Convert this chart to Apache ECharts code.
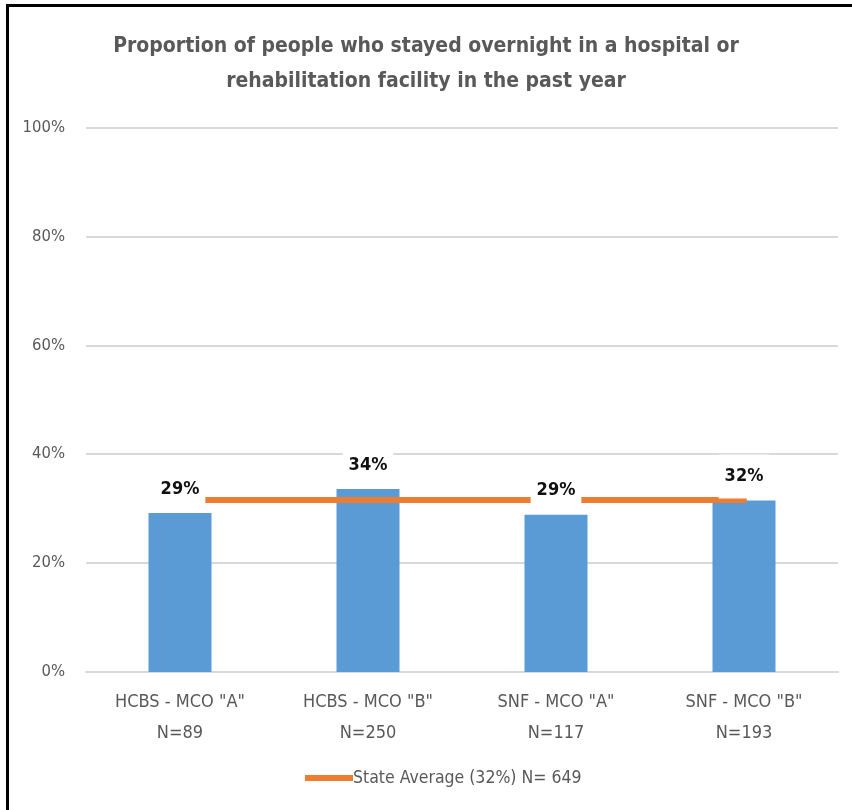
<!DOCTYPE html>
<html>
<head>
<meta charset="utf-8">
<script src="https://cdn.jsdelivr.net/npm/echarts@6/dist/echarts.min.js"></script>
<style>
html,body{margin:0;padding:0;background:#fff;}
#chart{width:852px;height:810px;}
</style>
</head>
<body>
<div id="chart"></div>
<script>
const categories = ['HCBS - MCO "A"\nN=89', 'HCBS - MCO "B"\nN=250', 'SNF - MCO "A"\nN=117', 'SNF - MCO "B"\nN=193'];
const barValues = [29.2, 33.6, 28.9, 31.5];
const barLabels = ['29%', '34%', '29%', '32%'];
const stateAverage = [31.6, 31.6, 31.6, 31.6];
const stateName = 'State Average (32%) N= 649';
const yTicks = [0, 20, 40, 60, 80, 100];

const FONT = '"Liberation Sans Narrow", "DejaVu Sans Condensed", sans-serif';
const chart = echarts.init(document.getElementById('chart'));
chart.setOption({
  animation: false,
  backgroundColor: '#fff',
  title: {
    text: 'Proportion of people who stayed overnight in a hospital or\nrehabilitation facility in the past year',
    left: 'center',
    top: 24,
    textStyle: { fontFamily: FONT, fontSize: 21, fontWeight: 'bold', color: '#595959', lineHeight: 35 }
  },
  legend: {
    data: [stateName],
    left: 300,
    top: 764,
    itemWidth: 48,
    itemHeight: 6,
    itemGap: 0,
    icon: 'rect',
    textStyle: { fontFamily: FONT, fontSize: 17.5, color: '#595959', padding: [0, 0, 0, -5] }
  },
  grid: { left: 86, right: 14, top: 127.5, bottom: 138, containLabel: false },
  xAxis: {
    type: 'category',
    data: categories,
    axisLine: { show: true, lineStyle: { color: '#D9D9D9', width: 2 } },
    axisTick: { show: false },
    axisLabel: { fontFamily: FONT, fontSize: 18, color: '#595959', lineHeight: 31, margin: 15 }
  },
  yAxis: {
    type: 'value',
    min: yTicks[0],
    max: yTicks[yTicks.length - 1],
    interval: 20,
    axisLine: { show: false },
    axisTick: { show: false },
    splitLine: { lineStyle: { color: '#D9D9D9', width: 2 } },
    axisLabel: { fontFamily: FONT, fontSize: 16.5, color: '#595959', margin: 21, formatter: v => v + '%' }
  },
  series: [
    {
      type: 'bar',
      data: barValues,
      barWidth: 63,
      itemStyle: { color: '#5B9BD5' },
      z: 2
    },
    {
      name: stateName,
      type: 'line',
      data: stateAverage,
      symbol: 'none',
      lineStyle: { color: '#ED7D31', width: 6, cap: 'round' },
      itemStyle: { color: '#ED7D31' },
      z: 3
    },
    {
      type: 'scatter',
      data: barValues,
      symbolSize: 0,
      silent: true,
      z: 5,
      itemStyle: { opacity: 1 },
      label: {
        show: true,
        position: 'top',
        distance: 2,
        formatter: p => barLabels[p.dataIndex],
        fontFamily: FONT,
        fontSize: 18,
        fontWeight: 'bold',
        color: '#111',
        backgroundColor: '#fff',
        lineHeight: 18,
        padding: [13, 6]
      }
    }
  ],
  graphic: [
    { type: 'line', shape: { x1: 7.5, y1: 4, x2: 7.5, y2: 810 }, style: { stroke: '#000', lineWidth: 3 }, z: 100 },
    { type: 'line', shape: { x1: 6, y1: 5.5, x2: 852, y2: 5.5 }, style: { stroke: '#000', lineWidth: 3 }, z: 100 }
  ]
});
</script>
</body>
</html>
